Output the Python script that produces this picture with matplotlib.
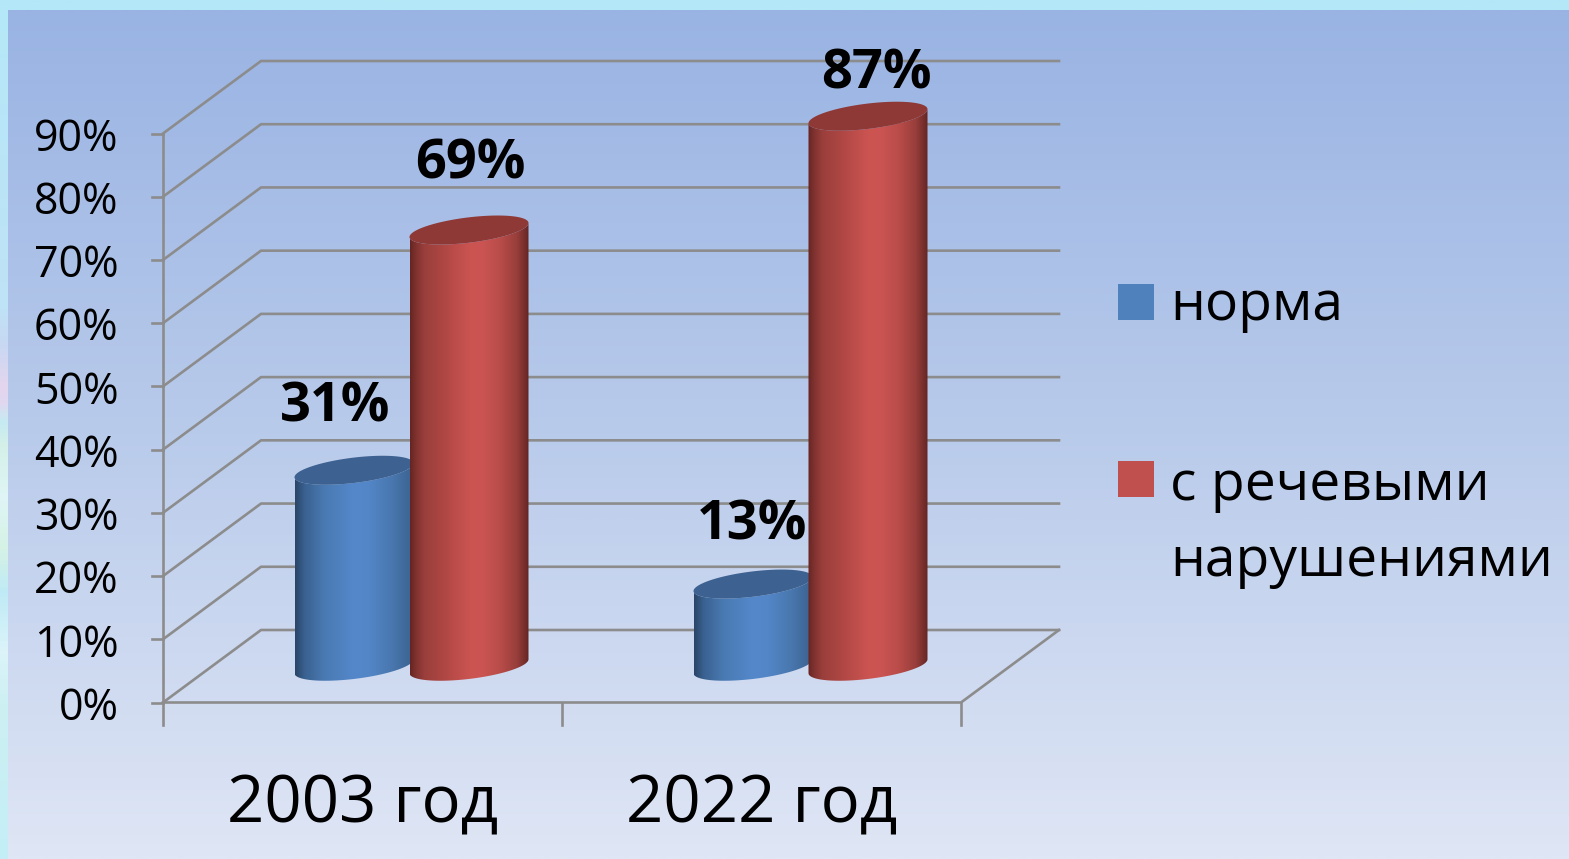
import numpy as np
import matplotlib
matplotlib.use("Agg")
import matplotlib.pyplot as plt
from matplotlib.colors import LinearSegmentedColormap
from matplotlib.patches import Polygon, Rectangle
from matplotlib.transforms import Affine2D

categories = ["2003 год", "2022 год"]
series_names = ["норма", "с речевыми\nнарушениями"]
norm_values = [31, 13]
speech_values = [69, 87]
y_ticks = [0, 10, 20, 30, 40, 50, 60, 70, 80, 90]

W, H = 1569, 859
plt.rcParams["font.family"] = ["Open Sans", "DejaVu Sans"]
fig = plt.figure(figsize=(W / 100, H / 100), dpi=100)
px = Affine2D().scale(1, -1).translate(0, H)

# background
bg = fig.add_axes([0, 0, 1, 1], zorder=0)
bg.set_axis_off()
outer = LinearSegmentedColormap.from_list("o", [(0, "#b4e8f8"), (0.36, "#bfe2f6"), (0.40, "#c8d8f2"), (0.45, "#e5d5ee"),
                                                (0.47, "#e0d8f0"), (0.49, "#c5eaf2"), (0.52, "#d5f0e8"), (0.58, "#dff5f6"),
                                                (0.64, "#d5f2e5"), (0.69, "#bfeaf5"), (0.76, "#dcf4fa"), (0.82, "#cdf0f2"),
                                                (1, "#c4eef7")])
bg.imshow(np.linspace(0, 1, 800)[:, None], cmap=outer, extent=(0, W, H, 0), aspect="auto", zorder=0)
inner = LinearSegmentedColormap.from_list("i", ["#99b3e3", "#b9cbeb", "#dfe6f5"])
bg.imshow(np.linspace(0, 1, 400)[:, None], cmap=inner, extent=(8, W, H, 10), aspect="auto", zorder=1)
bg.set_xlim(0, W)
bg.set_ylim(H, 0)

# main axes = front plane of the 3-D box
L, R, B, T = 163, 961, 702.5, 133.5
ax = fig.add_axes([L / W, 1 - B / H, (R - L) / W, (B - T) / H], zorder=1)
ax.patch.set_visible(False)
ax.set_axis_off()
ax.set_xlim(0, 2)
ax.set_ylim(0, 90)
ux = (R - L) / 2
uy = (B - T) / 90
DX, DY = 98 / ux, 72.5 / uy
GRID = "#8c8c8c"
LW = 1.9
line = dict(color=GRID, lw=LW, clip_on=False, zorder=1, solid_capstyle="projecting")

for v in y_ticks:
    ax.plot([0, DX, 2 + DX], [v, v + DY, v + DY], **line)
    ax.plot([-11 / ux, 0], [v, v], **line)
    ax.text(-44.5 / ux, v - 6 / uy, f"{v}%", ha="right", va="center", fontsize=31, clip_on=False)
ax.plot([0, 2, 2 + DX], [0, 0, DY], **line)
ax.plot([0, 0], [-22 / uy, 90], **line)
for x in [1, 2]:
    ax.plot([x, x], [-22 / uy, 0], **line)
for i, c in enumerate(categories):
    ax.text(i + 0.5, -103 / uy, c, ha="center", va="center", fontsize=47, clip_on=False)

# cylinders
BW = 119 / ux
GAP = 57.5 / ux
RADIUS_B = 12.7 / uy
SHEAR = 14 / 119 * (ux / uy)  # rise per x unit, in data units
blue_map = LinearSegmentedColormap.from_list("b", [(0, "#2a4568"), (0.08, "#3a6190"), (0.25, "#4a7ab3"),
                                                   (0.5, "#5488cb"), (0.62, "#5386c7"), (0.8, "#4a79b1"), (1, "#3b618f")])
red_map = LinearSegmentedColormap.from_list("r", [(0, "#652523"), (0.04, "#7b302d"), (0.12, "#9a3f3c"), (0.27, "#ad4643"),
                                                  (0.5, "#cb5451"), (0.6, "#cc5553"), (0.76, "#b94c49"), (0.9, "#983e3b"),
                                                  (1, "#642624")])


def ellipse(cx, cy, t):
    a = BW / 2
    return cx + a * np.cos(t), cy + RADIUS_B * np.sin(t) + SHEAR * a * np.cos(t)


def cylinder(cx, value, cmap, top_color, z):
    base = DY / 2
    t = np.linspace(np.pi, 2 * np.pi, 120)
    xb, yb = ellipse(cx, base, t)
    xt, yt = ellipse(cx, base + value, t[::-1])
    body = Polygon(np.column_stack([np.r_[xb, xt], np.r_[yb, yt]]), transform=ax.transData)
    im = ax.imshow(np.linspace(0, 1, 256)[None, :], cmap=cmap, aspect="auto", zorder=z,
                   extent=(cx - BW / 2, cx + BW / 2, base - 10, base + value + 10))
    im.set_clip_path(body)
    im.set_clip_box(fig.bbox)
    t2 = np.linspace(0, 2 * np.pi, 200)
    xe, ye = ellipse(cx, base + value, t2)
    ax.fill(xe, ye, color=top_color, zorder=z + 0.1, clip_on=False, lw=0)


centers = [i + 0.5 + DX / 2 for i in range(2)]
for i, (n, s) in enumerate(zip(norm_values, speech_values)):
    cylinder(centers[i] - GAP, n, blue_map, "#3d6291", 3)
    cylinder(centers[i] + GAP, s, red_map, "#8e3936", 4)

ax.set_xlim(0, 2)
ax.set_ylim(0, 90)

# data labels: (dx, dy) pixel offsets from the cylinder top
offs_n = [(-19, 63), (-1, 59)]
offs_s = [(1, 66), (8, 42)]
for i in range(2):
    for val, sign, off in ((norm_values[i], -1, offs_n[i]), (speech_values[i], 1, offs_s[i])):
        cx = centers[i] + sign * GAP
        ax.annotate(f"{val}%", (cx, val + DY / 2), xytext=(off[0] * 0.72, off[1] * 0.72),
                    textcoords="offset points", ha="center", va="center", fontsize=39,
                    fontweight="bold", zorder=6, annotation_clip=False)

# legend
for yp, col, name, ty in ((284, "#4f81bd", series_names[0], 305), (461, "#c0504d", series_names[1], 523.5)):
    fig.add_artist(Rectangle((1118, yp + 36), 36, -36, transform=px, fc=col, ec="none", zorder=5))
    fig.text(1170 / W, 1 - ty / H, name, ha="left", va="center", fontsize=39.7, linespacing=1.52, zorder=6)

fig.savefig("out.png", dpi=100)
